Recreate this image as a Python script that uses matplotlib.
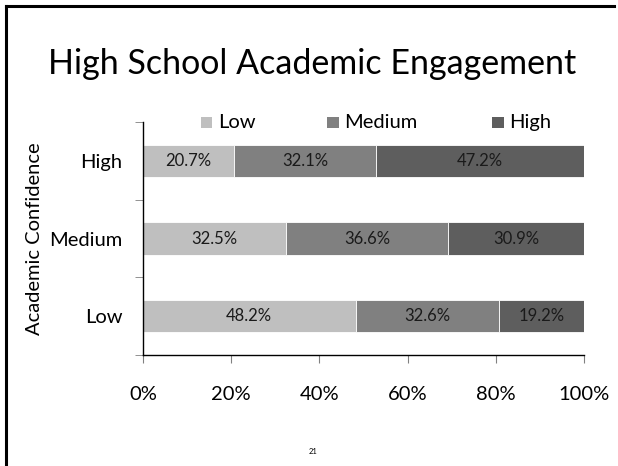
import matplotlib
matplotlib.use("Agg")
import matplotlib.pyplot as plt
from matplotlib.patches import Rectangle
from matplotlib.lines import Line2D

plt.rcParams['font.family'] = ['Lato', 'DejaVu Sans']

title = "High School Academic Engagement"
confidence = ["Low", "Medium", "High"]          # y categories, bottom to top
engagement = ["Low", "Medium", "High"]          # stacked series
values = {
    "Low":    [48.2, 32.5, 20.7],
    "Medium": [32.6, 36.6, 32.1],
    "High":   [19.2, 30.9, 47.2],
}
colors = {"Low": "#bfbfbf", "Medium": "#808080", "High": "#5e5e5e"}
xticks = [0, 20, 40, 60, 80, 100]

W, H = 618, 466
fig = plt.figure(figsize=(W / 100, H / 100), dpi=100)
ax = fig.add_axes([143 / W, 1 - 355 / H, (584 - 143) / W, (355 - 122) / H])

ypos = list(range(len(confidence)))
left = [0.0] * len(confidence)
for s in engagement:
    vals = values[s]
    ax.barh(ypos, vals, left=left, height=0.42, color=colors[s],
            edgecolor="white", linewidth=0.6, label=s)
    for y, l, v in zip(ypos, left, vals):
        ax.text(l + v / 2, y, f"{v:.1f}%", ha="center", va="center",
                fontsize=12, color="#1a1a1a")
    left = [l + v for l, v in zip(left, vals)]

ax.set_xlim(0, 100)
ax.set_ylim(-0.5, len(confidence) - 0.5)
ax.set_xticks(xticks)
ax.set_xticklabels([f"{t}%" for t in xticks], fontsize=14.5)
ax.set_yticks(ypos)
ax.set_yticklabels(confidence, fontsize=14.5)
ax.set_yticks([-0.5, 0.5, 1.5, 2.5], minor=True)
ax.tick_params(axis="y", which="major", length=0, pad=15)
ax.tick_params(axis="y", which="minor", length=6, color="#808080")
ax.tick_params(axis="x", length=6, color="#808080", pad=16)
for side in ("top", "right"):
    ax.spines[side].set_visible(False)
for side in ("left", "bottom"):
    ax.spines[side].set_color("black")
    ax.spines[side].set_linewidth(1.0)
ax.set_ylabel("Academic Confidence", fontsize=14.5, labelpad=4)

# legend row above the plot
legend_x = {"Low": 201, "Medium": 327, "High": 492}
for s in engagement:
    x0 = legend_x[s]
    fig.add_artist(Rectangle((x0 / W, 1 - 128 / H), 11.5 / W, 11 / H,
                             transform=fig.transFigure, facecolor=colors[s],
                             edgecolor="none"))
    fig.text((x0 + 17.5) / W, 1 - 128 / H, s, ha="left", va="baseline", fontsize=14.5)

fig.text(312 / W, 1 - 74.5 / H, title, ha="center", va="baseline", fontsize=24.5)
fig.text(313 / W, 1 - 451 / H, "21", ha="center", va="center", fontsize=5.5)

# slide frame
fig.add_artist(Line2D([6 / W, 614 / W], [1 - 6 / H, 1 - 6 / H], transform=fig.transFigure,
                      color="black", linewidth=2.2))
fig.add_artist(Line2D([6 / W, 6 / W], [1 - 6 / H, 0], transform=fig.transFigure,
                      color="black", linewidth=2.2))

fig.savefig("out.png", dpi=100)
